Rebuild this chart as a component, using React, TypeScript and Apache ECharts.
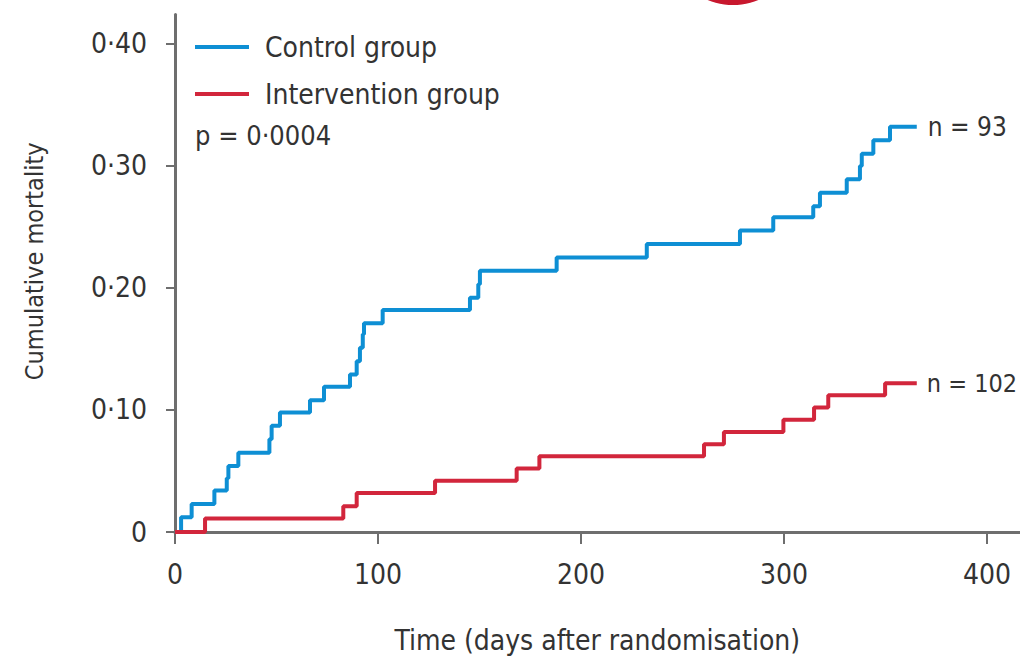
import React, { useEffect, useRef } from "react";
import * as echarts from "echarts";

const controlDays = [0, 3, 8.2, 19.4, 25.5, 26.3, 31.2, 46.5, 47.6, 51.7, 66.5, 73.4, 86.2, 89.5, 91.1, 92.5, 93.1, 102.3, 145.3, 149.4, 150.2, 188, 232.4, 278.3, 294.7, 314.4, 317.7, 330.9, 337.4, 338.3, 344, 352.2, 365.4];
const controlMortality = [0, 0.012, 0.023, 0.034, 0.044, 0.054, 0.065, 0.076, 0.087, 0.098, 0.108, 0.119, 0.129, 0.14, 0.151, 0.162, 0.171, 0.182, 0.192, 0.203, 0.214, 0.225, 0.236, 0.247, 0.258, 0.267, 0.278, 0.289, 0.3, 0.31, 0.321, 0.332, 0.332];

const interventionDays = [0, 14.8, 82.9, 89.5, 128.1, 168.3, 179.5, 260.6, 270.4, 299.7, 314.8, 321.8, 349.8, 365.4];
const interventionMortality = [0, 0.011, 0.021, 0.032, 0.042, 0.052, 0.062, 0.072, 0.082, 0.092, 0.102, 0.112, 0.122, 0.122];

const xTicks = [0, 100, 200, 300, 400];
const yTicks = [0, 0.1, 0.2, 0.3, 0.4];
const yTickLabels = ["0", "0·10", "0·20", "0·30", "0·40"];

const seriesNames = ["Control group", "Intervention group"];
const endLabels = ["n = 93", "n = 102"];
const pValueText = "p = 0·0004";

const FONT = "'Liberation Sans Narrow', 'DejaVu Sans Condensed', 'Liberation Sans', sans-serif";
const TEXT = "#333333";
const BLUE = "#0e8fd4";
const RED = "#d2263c";

export default function App() {
  const ref = useRef<HTMLDivElement>(null);
  useEffect(() => {
    if (!ref.current) return;
    const chart = echarts.init(ref.current, null, { renderer: "svg" });
    const control = controlDays.map((d, i) => [d, controlMortality[i]]);
    const intervention = interventionDays.map((d, i) => [d, interventionMortality[i]]);
    chart.setOption({
      animation: false,
      backgroundColor: "#ffffff",
      textStyle: { fontFamily: FONT },
      title: {
        text: pValueText,
        left: 195,
        top: 122,
        padding: 0,
        textStyle: { fontFamily: FONT, fontSize: 27, fontWeight: "normal", color: TEXT },
      },
      legend: {
        orient: "vertical",
        left: 195,
        top: 33,
        padding: 0,
        itemGap: 19,
        itemWidth: 54,
        itemHeight: 4,
        icon: "rect",
        data: seriesNames,
        textStyle: { fontFamily: FONT, fontSize: 28, color: TEXT, padding: [0, 0, 0, 11] },
      },
      grid: { left: 175, top: 14.6, width: 844.5, height: 517.4, containLabel: false },
      xAxis: {
        type: "value",
        min: 0,
        max: 416,
        name: "Time (days after randomisation)",
        nameLocation: "middle",
        nameGap: 94,
        nameTextStyle: { fontFamily: FONT, fontSize: 28, color: TEXT },
        splitLine: { show: false },
        axisLine: { show: true, onZero: false, lineStyle: { color: "#6e6e6e", width: 3 } },
        axisTick: { show: true, customValues: xTicks, length: 12, lineStyle: { color: "#6e6e6e", width: 2 } },
        axisLabel: { customValues: xTicks, margin: 28, fontFamily: FONT, fontSize: 28, color: TEXT },
      },
      yAxis: {
        type: "value",
        min: 0,
        max: 0.424,
        name: "Cumulative mortality",
        nameLocation: "middle",
        nameRotate: 90,
        nameGap: 128,
        nameTextStyle: { fontFamily: FONT, fontSize: 25, color: TEXT, padding: [0, 0, 0, 24] },
        splitLine: { show: false },
        axisLine: { show: true, lineStyle: { color: "#6e6e6e", width: 3 } },
        axisTick: { show: true, customValues: yTicks, length: 9, lineStyle: { color: "#6e6e6e", width: 2 } },
        axisLabel: {
          customValues: yTicks,
          margin: 28,
          fontFamily: FONT,
          fontSize: 28,
          color: TEXT,
          formatter: (v: number) => {
            const i = yTicks.findIndex((t) => Math.abs(t - v) < 1e-9);
            return i >= 0 ? yTickLabels[i] : "";
          },
        },
      },
      graphic: [
        { type: "circle", shape: { cx: 733, cy: -62, r: 67 }, style: { fill: "#c8182e" }, silent: true },
      ],
      series: [
        {
          name: seriesNames[0],
          type: "line",
          step: "end",
          data: control,
          color: BLUE,
          showSymbol: false,
          symbol: "none",
          lineStyle: { color: BLUE, width: 4 },
          endLabel: {
            show: true,
            formatter: () => endLabels[0],
            distance: 11,
            fontFamily: FONT,
            fontSize: 26,
            color: TEXT,
          },
        },
        {
          name: seriesNames[1],
          type: "line",
          step: "end",
          data: intervention,
          color: RED,
          showSymbol: false,
          symbol: "none",
          lineStyle: { color: RED, width: 4 },
          endLabel: {
            show: true,
            formatter: () => endLabels[1],
            distance: 10,
            fontFamily: FONT,
            fontSize: 25,
            color: TEXT,
          },
        },
      ],
    });
    return () => chart.dispose();
  }, []);
  return (
    <div
      ref={ref}
      style={{ position: "fixed", left: 0, top: 0, width: 1020, height: 659, background: "#fff" }}
    />
  );
}
